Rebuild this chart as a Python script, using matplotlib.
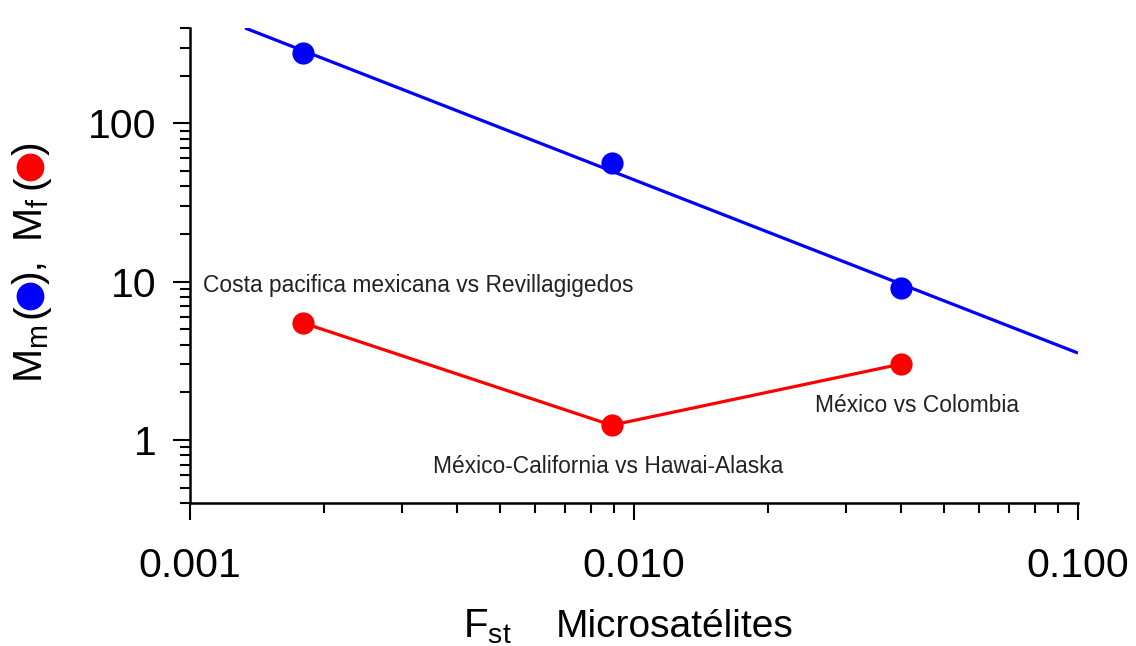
import matplotlib
matplotlib.use('Agg')
import matplotlib.pyplot as plt
from matplotlib.ticker import FixedLocator, FixedFormatter, NullFormatter, LogLocator
from matplotlib.lines import Line2D

# ---- data ----
fst = [0.0018, 0.0089, 0.040]
mm = [278, 56.1, 9.12]          # blue points (M_m)
mf = [5.48, 1.24, 3.02]         # red points (M_f)
fit_x = [0.00133, 0.1]          # blue regression line end points
fit_y = [400, 3.54]
labels = ["Costa pacifica mexicana vs Revillagigedos",
          "México-California vs Hawai-Alaska",
          "México vs Colombia"]
label_x = [0.00107, 0.003526, 0.02557]
label_y = [9.39, 0.685, 1.663]
xticks = [0.001, 0.01, 0.1]
xticklabels = ["0.001", "0.010", "0.100"]
yticks = [1, 10, 100]
yticklabels = ["1", "10", "100"]

plt.rcParams['font.family'] = ['Liberation Sans', 'DejaVu Sans']
W, H = 1136, 646
fig = plt.figure(figsize=(W / 100, H / 100), dpi=100)
ax = fig.add_axes([190 / W, 143 / H, 888 / W, 475 / H])

ax.set_xscale('log')
ax.set_yscale('log')
ax.set_xlim(0.001, 0.1)
ax.set_ylim(0.4, 400)

ax.plot(fit_x, fit_y, color='#0000ff', lw=2.3, solid_capstyle='butt', zorder=2)
ax.plot(fst, mm, 'o', color='#0000ff', ms=16, mew=0, zorder=3)
ax.plot(fst, mf, '-', color='#ff0000', lw=2.3, zorder=2)
ax.plot(fst, mf, 'o', color='#ff0000', ms=16, mew=0, zorder=3)

for s, x, y in zip(labels, label_x, label_y):
    ax.text(x, y, s, ha='left', va='center', fontsize=16.4, color='#222222')

for side in ('top', 'right'):
    ax.spines[side].set_visible(False)
for side in ('left', 'bottom'):
    ax.spines[side].set_linewidth(1.8)

ax.xaxis.set_major_locator(FixedLocator(xticks))
ax.xaxis.set_major_formatter(FixedFormatter(xticklabels))
ax.yaxis.set_major_locator(FixedLocator(yticks))
ax.yaxis.set_major_formatter(FixedFormatter(yticklabels))
ax.xaxis.set_minor_locator(LogLocator(base=10, subs=range(2, 10)))
ax.yaxis.set_minor_locator(LogLocator(base=10, subs=range(2, 10)))
ax.xaxis.set_minor_formatter(NullFormatter())
ax.yaxis.set_minor_formatter(NullFormatter())

ax.tick_params(axis='both', which='major', direction='out', length=12, width=1.5,
               labelsize=29.5, color='black')
ax.tick_params(axis='both', which='minor', direction='out', length=7, width=1.5,
               color='black')
ax.tick_params(axis='x', which='major', pad=20)
ax.tick_params(axis='y', which='major', pad=12)

# x label
fig.text(463 / W, (H - 627) / H, "F$_\\mathregular{st}$",
         ha='left', va='center', fontsize=29)
fig.text(556 / W, (H - 627) / H, "Microsatélites",
         ha='left', va='center', fontsize=28)

# y label made of pieces (rotated, baseline at x = 42 px)
xb = 42 / W
def ypiece(s, ypx):
    fig.text(xb, (H - ypx) / H, s, rotation=90, rotation_mode='anchor',
             ha='left', va='baseline', fontsize=29.5)

ypiece("M$_\\mathregular{m}$", 383)
ypiece("(", 318)
ypiece("),", 284)
ypiece("M$_\\mathregular{f}$", 242)
ypiece("(", 189)
ypiece(")", 155)
fig.add_artist(Line2D([30 / W], [(H - 296) / H], marker='o', color='#0000ff',
                      ms=20, mew=0, transform=fig.transFigure))
fig.add_artist(Line2D([30 / W], [(H - 167) / H], marker='o', color='#ff0000',
                      ms=20, mew=0, transform=fig.transFigure))

fig.savefig('out.png', dpi=100)
